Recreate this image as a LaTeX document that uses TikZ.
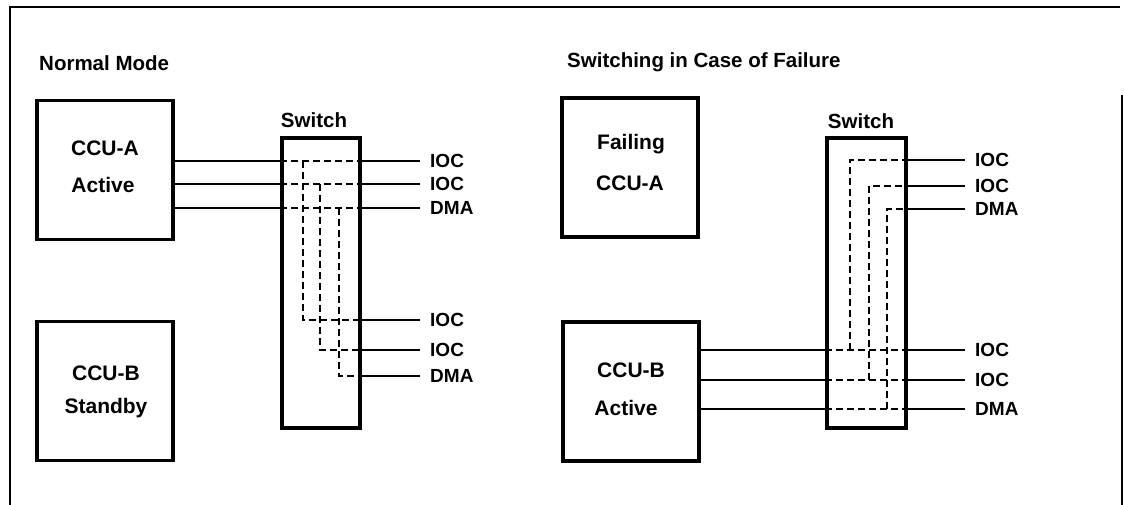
\documentclass[tikz,border=0pt]{standalone}
\usepackage{fontspec}
\setmainfont{Liberation Sans}
\begin{document}
\begin{tikzpicture}[x=1pt,y=-1pt,
  frame/.style={line width=1.8pt},
  unitbox/.style={draw, line width=3.6pt, fill=white, minimum width=136pt, minimum height=139pt, inner sep=0pt},
  boxtext/.style={inner sep=0pt, font=\fontsize{21}{24}\selectfont\bfseries},
  switchbox/.style={draw, line width=3.6pt, fill=white, minimum width=78pt, minimum height=290pt, inner sep=0pt},
  title/.style={anchor=west, inner sep=0pt, font=\fontsize{20.5}{24}\selectfont\bfseries},
  swlabel/.style={inner sep=0pt, font=\fontsize{20.5}{24}\selectfont\bfseries},
  port/.style={anchor=west, inner sep=0pt, font=\fontsize{19}{22}\selectfont\bfseries},
  conn/.style={line width=1.8pt},
  path/.style={line width=1.8pt, dash pattern=on 7pt off 4pt},
  toport/.style={conn, shorten >=10pt}]
\useasboundingbox (0,0) rectangle (1124,505);
% frame
\draw[frame] (10,505) -- (10,7) -- (1120,7);
\draw[frame] (1122,95) -- (1122,505);

% ---------- Normal Mode ----------
\node[title] (t1) at (39,63) {Normal Mode};
\node[unitbox] (ccua) at (105,170) {};
\node[boxtext] (ccua1) at (105,148) {CCU-A};
\node[boxtext] (ccua2) at (103,185) {Active};
\node[unitbox] (ccub) at (105,391) {};
\node[boxtext] (ccub1) at (106,373) {CCU-B};
\node[boxtext] (ccub2) at (106,408) {Standby};
\node[swlabel] (swla) at (314,120) {Switch};
\node[switchbox] (swa) at (321,283) {};

\node[port] (a1) at (430,161) {IOC};
\node[port] (a2) at (430,184) {IOC};
\node[port] (a3) at (430,208) {DMA};
\node[port] (a4) at (430,320) {IOC};
\node[port] (a5) at (430,350) {IOC};
\node[port] (a6) at (430,376) {DMA};

\foreach \n/\y in {a1/161,a2/184,a3/208}{
  \draw[conn] (ccua.east |- 0,\y) -- (swa.west |- 0,\y);
  \draw[path] (swa.west |- 0,\y) -- (swa.east |- 0,\y);
  \draw[toport] (swa.east |- 0,\y) -- (\n.west);
}
\foreach \n/\y in {a4/320,a5/350,a6/376}{
  \draw[toport] (swa.east |- 0,\y) -- (\n.west);
}
\draw[path] (303,161) -- (303,320) -- (swa.east |- 0,320);
\draw[path] (320,184) -- (320,350) -- (swa.east |- 0,350);
\draw[path] (339,208) -- (339,376) -- (swa.east |- 0,376);

% ---------- Switching in Case of Failure ----------
\node[title] (t2) at (567,62) {Switching in Case of Failure};
\node[unitbox] (fccua) at (630,167.5) {};
\node[boxtext] (fccua1) at (631,144) {Failing};
\node[boxtext] (fccua2) at (630,183) {CCU-A};
\node[unitbox] (accub) at (631,391.5) {};
\node[boxtext] (accub1) at (631,370) {CCU-B};
\node[boxtext] (accub2) at (626,408) {Active};
\node[swlabel] (swlb) at (861,121) {Switch};
\node[switchbox, minimum width=79pt] (swb) at (866.5,283) {};

\node[port] (b1) at (975,160) {IOC};
\node[port] (b2) at (975,186) {IOC};
\node[port] (b3) at (975,209) {DMA};
\node[port] (b4) at (975,350) {IOC};
\node[port] (b5) at (975,380) {IOC};
\node[port] (b6) at (975,409) {DMA};

\foreach \n/\y in {b1/160,b2/186,b3/209}{
  \draw[toport] (swb.east |- 0,\y) -- (\n.west);
}
\foreach \n/\y in {b4/350,b5/380,b6/409}{
  \draw[conn] (accub.east |- 0,\y) -- (swb.west |- 0,\y);
  \draw[path] (swb.west |- 0,\y) -- (swb.east |- 0,\y);
  \draw[toport] (swb.east |- 0,\y) -- (\n.west);
}
\draw[path] (850,350) -- (850,160) -- (swb.east |- 0,160);
\draw[path] (869,380) -- (869,186) -- (swb.east |- 0,186);
\draw[path] (887,409) -- (887,209) -- (swb.east |- 0,209);
\end{tikzpicture}
\end{document}
